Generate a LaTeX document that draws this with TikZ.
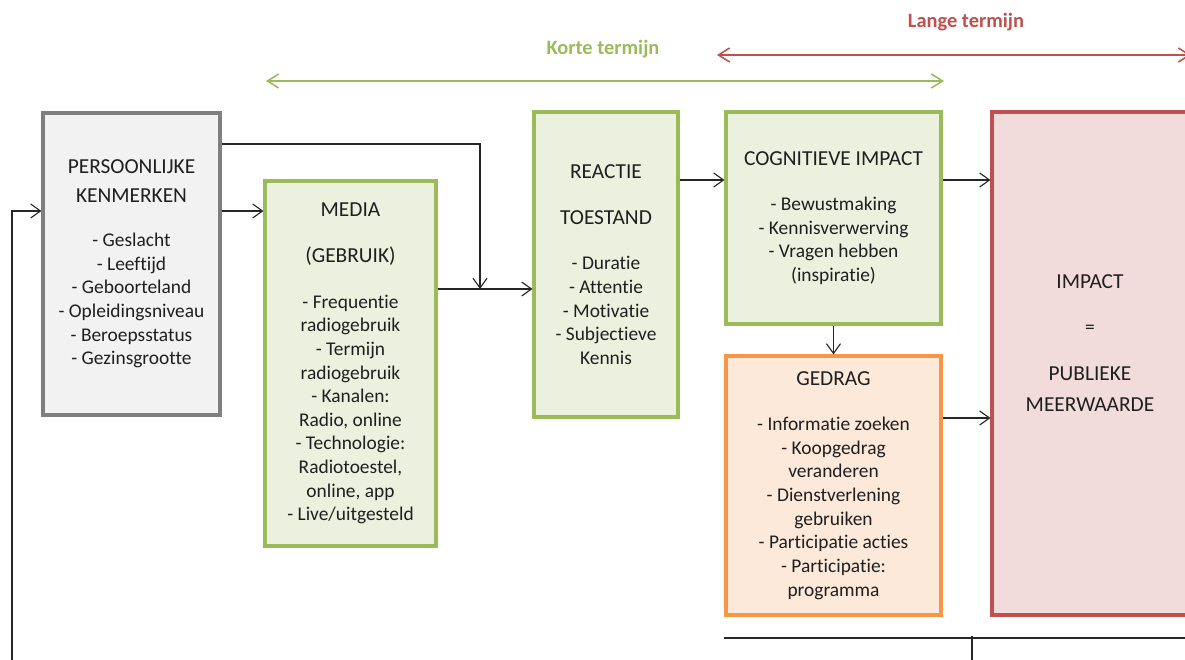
\documentclass[tikz,border=0pt]{standalone}
\usepackage{fontspec}
\setmainfont{Carlito}[Ligatures={NoCommon,NoRare,NoContextual}]
\usetikzlibrary{positioning,calc}
\usetikzlibrary{arrows.meta}
\definecolor{EdgeGray}{RGB}{127,127,127}
\definecolor{SoftGray}{RGB}{242,242,242}
\definecolor{LeafGreen}{RGB}{155,187,89}
\definecolor{SoftGreen}{RGB}{235,241,222}
\definecolor{DeepOrange}{RGB}{247,150,70}
\definecolor{SoftOrange}{RGB}{253,233,217}
\definecolor{BrickRed}{RGB}{192,80,77}
\definecolor{SoftRed}{RGB}{242,220,219}
\newcommand{\hd}[1]{{\fontsize{15.2}{16.8}\selectfont #1}}
\tikzset{
  box/.style={draw,line width=2.2pt,align=center,inner sep=0pt,text=black!88,
    font=\fontsize{13.8}{16.8}\selectfont},
  graybox/.style={box,draw=EdgeGray,fill=SoftGray},
  greenbox/.style={box,draw=LeafGreen,fill=SoftGreen},
  orangebox/.style={box,draw=DeepOrange,fill=SoftOrange},
  redbox/.style={box,draw=BrickRed,fill=SoftRed},
  conn/.style={draw=black!85,line width=0.8pt,-{Straight Barb[length=7pt,width=10pt]}},
  plain/.style={draw=black!85,line width=0.8pt},
  span/.style={line width=1.1pt,{Straight Barb[length=8pt,width=10pt]}-{Straight Barb[length=8pt,width=10pt]}},
  spantxt/.style={font=\fontsize{14.5}{17}\selectfont\bfseries},
}

\begin{document}
\begin{tikzpicture}[x=0.025cm,y=-0.025cm]
\path[use as bounding box,clip] (0,0) rectangle (1185,659);
% rows of the connectors
\coordinate (r0) at (0,144);
\coordinate (r1) at (0,211);
\coordinate (r2) at (0,289);
\coordinate (r3) at (0,180);
\coordinate (r4) at (0,418);
% boxes
\node[graybox,minimum width=177*0.025cm,minimum height=302*0.025cm] (pk) at (131.5,264)
  {\hd{PERSOONLIJKE}\\[3.8pt]\hd{KENMERKEN}\\[14.4pt]- Geslacht\\- Leeftijd\\- Geboorteland\\
   - Opleidingsniveau\\- Beroepsstatus\\- Gezinsgrootte};
\node[greenbox,minimum width=171*0.025cm,minimum height=365*0.025cm] (media) at (350.5,363.5)
  {\hd{MEDIA}\\[16pt]\hd{(GEBRUIK)}\\[15.6pt]- Frequentie\\radiogebruik\\- Termijn\\radiogebruik\\
   - Kanalen:\\Radio, online\\- Technologie:\\Radiotoestel,\\online, app\\- Live/uitgesteld};
\node[greenbox,minimum width=144*0.025cm,minimum height=305*0.025cm] (reactie) at (606,264.5)
  {\hd{REACTIE}\\[16pt]\hd{TOESTAND}\\[15.6pt]- Duratie\\- Attentie\\- Motivatie\\- Subjectieve\\Kennis};
\node[greenbox,minimum width=215*0.025cm,minimum height=212*0.025cm] (cog) at (833.5,218)
  {\hd{COGNITIEVE IMPACT}\\[15.6pt]- Bewustmaking\\- Kennisverwerving\\- Vragen hebben\\(inspiratie)};
\node[orangebox,minimum width=215*0.025cm,minimum height=259*0.025cm] (gedrag) at (833.5,485.5)
  {\hd{GEDRAG}\\[15.4pt]- Informatie zoeken\\- Koopgedrag\\veranderen\\- Dienstverlening\\gebruiken\\
   - Participatie acties\\- Participatie:\\programma};
\node[redbox,minimum width=196*0.025cm,minimum height=503*0.025cm] (impact) at (1090,363.5) {};
\node[align=center,text=black!88,font=\fontsize{13.8}{16.8}\selectfont] (impacttxt) at (1090,343)
  {\hd{IMPACT}\\[15.8pt]=\\[16.5pt]\hd{PUBLIEKE}\\[5.2pt]\hd{MEERWAARDE}};
% connectors
\coordinate (fb) at (12,670);
\coordinate (jn) at (480,289);
\draw[conn] (fb) |- (pk.west |- r1);
\draw[conn] (pk.east |- r1) -- (media.west |- r1);
\draw[conn] (pk.east |- r0) -| (jn);
\draw[conn] (media.east |- r2) -- (reactie.west |- r2);
\draw[conn] (reactie.east |- r3) -- (cog.west |- r3);
\draw[conn] (cog.east |- r3) -- (impact.west |- r3);
\draw[conn] (cog.south) -- (gedrag.north);
\draw[conn] (gedrag.east |- r4) -- (impact.west |- r4);
% lines at the bottom
\coordinate (b1) at (724,638);
\coordinate (b2) at (1200,638);
\coordinate (b3) at (972,636);
\coordinate (b4) at (972,670);
\draw[plain] (b1) -- (b2);
\draw[plain] (b3) -- (b4);
% time spans
\coordinate (k1) at (266,81);
\coordinate (k2) at (944,81);
\coordinate (l1) at (717,55);
\coordinate (l2) at (1191,55);
\draw[span,draw=LeafGreen] (k1) -- (k2);
\draw[span,draw=BrickRed] (l1) -- (l2);
\node[spantxt,text=LeafGreen] (korte) at (603,49) {Korte termijn};
\node[spantxt,text=BrickRed] (lange) at (966,22) {Lange termijn};
\end{tikzpicture}
\end{document}
